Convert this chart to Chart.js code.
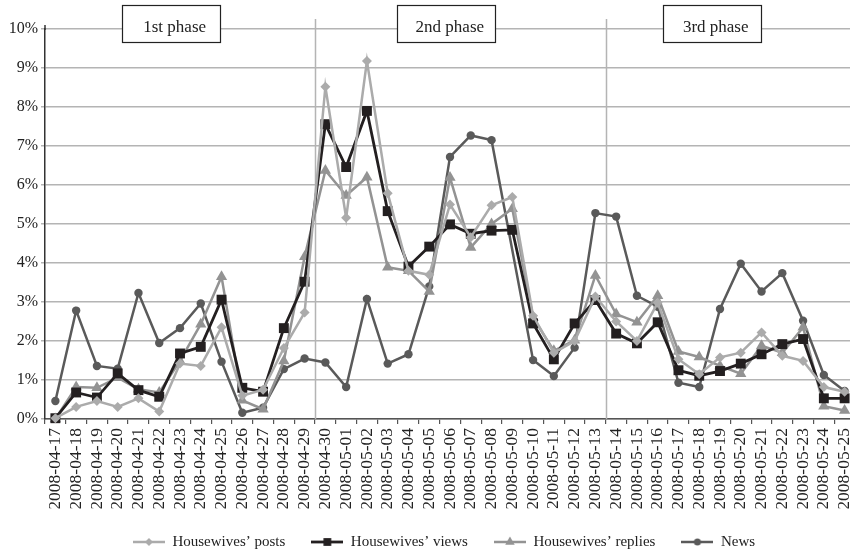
<!DOCTYPE html>
<html><head><meta charset="utf-8">
<script src="https://cdn.jsdelivr.net/npm/chart.js@4"></script>
<style>html,body{margin:0;padding:0;background:#fff;overflow:hidden}#wrap{width:850px;height:554px}</style>
</head><body><div id="wrap"><canvas id="c" width="850" height="554"></canvas></div>
<script>
const dates = ['2008-04-17','2008-04-18','2008-04-19','2008-04-20','2008-04-21','2008-04-22','2008-04-23','2008-04-24','2008-04-25','2008-04-26','2008-04-27','2008-04-28','2008-04-29','2008-04-30','2008-05-01','2008-05-02','2008-05-03','2008-05-04','2008-05-05','2008-05-06','2008-05-07','2008-05-08','2008-05-09','2008-05-10','2008-05-11','2008-05-12','2008-05-13','2008-05-14','2008-05-15','2008-05-16','2008-05-17','2008-05-18','2008-05-19','2008-05-20','2008-05-21','2008-05-22','2008-05-23','2008-05-24','2008-05-25'];
const posts   = [0.02,0.31,0.46,0.31,0.53,0.19,1.42,1.36,2.35,0.60,0.75,1.82,2.73,8.52,5.16,9.18,5.79,3.80,3.70,5.50,4.66,5.48,5.69,2.65,1.70,2.00,3.14,2.50,2.00,2.98,1.53,1.15,1.58,1.70,2.22,1.62,1.49,0.82,0.70];
const views   = [0.02,0.68,0.55,1.17,0.74,0.57,1.68,1.85,3.06,0.80,0.70,2.33,3.52,7.56,6.46,7.90,5.33,3.91,4.42,4.99,4.75,4.83,4.85,2.45,1.53,2.45,3.05,2.19,1.94,2.48,1.25,1.11,1.23,1.42,1.66,1.92,2.05,0.53,0.53];
const replies = [0.00,0.82,0.80,1.06,0.76,0.68,1.49,2.43,3.65,0.48,0.25,1.49,4.16,6.37,5.73,6.20,3.89,3.80,3.27,6.19,4.40,5.00,5.39,2.60,1.75,2.02,3.68,2.69,2.48,3.16,1.73,1.59,1.36,1.16,1.88,1.70,2.35,0.33,0.22];
const news    = [0.46,2.78,1.36,1.29,3.23,1.95,2.33,2.96,1.47,0.16,0.29,1.28,1.55,1.45,0.82,3.08,1.42,1.66,3.40,6.72,7.27,7.15,null,1.51,1.10,1.83,5.28,5.19,3.16,2.88,0.93,0.82,2.82,3.98,3.27,3.74,2.52,1.13,0.72];
const seriesNames = ['Housewives\u2019 posts','Housewives\u2019 views','Housewives\u2019 replies','News'];
const yTicks = [0,1,2,3,4,5,6,7,8,9,10];
const phaseLabels = ['1st phase','2nd phase','3rd phase'];
const phaseStarts = ['2008-04-30','2008-05-14'];

const FONT = "'Liberation Serif', 'Times New Roman', serif";
const styles = [
  {color:'#ababab', point:'rectRot', r:5,   lw:2.5, lr:4},
  {color:'#231f20', point:'rect',    r:7,   lw:2.8, lr:5.5},
  {color:'#939393', point:'triangle',r:6.5, lw:2.5, lr:5.5},
  {color:'#5a5a5a', point:'circle',  r:4.2, lw:2.5, lr:3.5}
];

function legendIcon(st) {
  const c = document.createElement('canvas');
  c.width = 32; c.height = 14;
  const g = c.getContext('2d');
  g.strokeStyle = st.color; g.fillStyle = st.color; g.lineWidth = st.lw;
  g.beginPath(); g.moveTo(0, 7); g.lineTo(32, 7); g.stroke();
  const cx = 16, cy = 7, r = st.lr;
  g.beginPath();
  if (st.point === 'rectRot') { g.moveTo(cx, cy - r); g.lineTo(cx + r, cy); g.lineTo(cx, cy + r); g.lineTo(cx - r, cy); g.closePath(); }
  else if (st.point === 'rect') { const s = r * Math.SQRT1_2; g.rect(cx - s, cy - s, 2 * s, 2 * s); }
  else if (st.point === 'triangle') { g.moveTo(cx, cy - r); g.lineTo(cx + r * 0.866, cy + r * 0.5); g.lineTo(cx - r * 0.866, cy + r * 0.5); g.closePath(); }
  else { g.arc(cx, cy, r, 0, Math.PI * 2); }
  g.fill();
  return c;
}
const icons = styles.map(legendIcon);

const phasePlugin = {
  id: 'phases',
  afterLayout(chart, args, opts) {
    if (chart.legend) { chart.legend.left += opts.legendShift; chart.legend.right += opts.legendShift; }
    // the plot runs slightly past the right edge of the canvas, as in the reference
    const x = chart.scales.x, ext = opts.extendRight;
    x.right += ext; x.width += ext;
    chart.chartArea.right += ext; chart.chartArea.width += ext;
    x.configure();
  },
  beforeDatasetsDraw(chart, args, opts) {
    const {ctx, chartArea, scales: {x}} = chart;
    ctx.save();
    ctx.strokeStyle = '#b4b4b4'; ctx.lineWidth = 1.5;
    phaseStarts.forEach(d => {
      const i = dates.indexOf(d);
      const px = Math.round((x.getPixelForValue(i - 1) + x.getPixelForValue(i)) / 2) + 0.5;
      ctx.beginPath(); ctx.moveTo(px, chartArea.top - 10); ctx.lineTo(px, chartArea.bottom); ctx.stroke();
    });
    ctx.strokeStyle = '#333'; ctx.lineWidth = 1.5;
    ctx.beginPath(); ctx.moveTo(chartArea.left, chartArea.top - 4); ctx.lineTo(chartArea.left, chartArea.top + 1); ctx.stroke();
    ctx.restore();
  },
  afterDraw(chart, args, opts) {
    const {ctx, scales: {x}} = chart;
    ctx.save();
    phaseLabels.forEach((t, k) => {
      const cx = x.getPixelForValue(opts.boxAt[k]);
      const w = 98, h = 37;
      const left = Math.round(cx - w / 2) + 0.5, top = 5.5;
      ctx.fillStyle = '#fff'; ctx.fillRect(left, top, w, h);
      ctx.strokeStyle = '#222'; ctx.lineWidth = 1.2; ctx.strokeRect(left, top, w, h);
      ctx.fillStyle = '#222'; ctx.font = '17px ' + FONT;
      ctx.textAlign = 'center'; ctx.textBaseline = 'alphabetic';
      ctx.fillText(t, cx + 4, 31.5);
    });
    ctx.restore();
  }
};

const datasets = [posts, views, replies, news].map((d, i) => ({
  label: seriesNames[i],
  data: d,
  borderColor: styles[i].color,
  backgroundColor: styles[i].color,
  pointBackgroundColor: styles[i].color,
  pointBorderColor: styles[i].color,
  pointBorderWidth: 0,
  pointStyle: styles[i].point,
  pointRadius: styles[i].r,
  borderWidth: styles[i].lw,
  tension: 0,
  spanGaps: true,
  clip: 8
}));

new Chart(document.getElementById('c'), {
  type: 'line',
  data: { labels: dates, datasets },
  plugins: [phasePlugin],
  options: {
    responsive: false,
    animation: false,
    devicePixelRatio: 1,
    layout: { autoPadding: false, padding: { top: 29, right: 0, left: 0, bottom: -5.5 } },
    plugins: {
      phases: { boxAt: [5.55, 18.8, 31.6], legendShift: -3.5, extendRight: 5 },
      tooltip: { enabled: false },
      legend: {
        position: 'bottom',
        fullSize: false,
        labels: {
          usePointStyle: true,
          pointStyleWidth: 32,
          padding: 26,
          color: '#222',
          font: { family: FONT, size: 15 },
          generateLabels(chart) {
            const items = Chart.defaults.plugins.legend.labels.generateLabels(chart);
            items.forEach(it => { it.pointStyle = icons[it.datasetIndex]; });
            return items;
          }
        }
      }
    },
    scales: {
      x: {
        type: 'category',
        offset: true,
        afterFit(s) { s.height = 89.5; s.paddingLeft = 0; s.paddingRight = 0; },
        grid: { offset: true, drawOnChartArea: false, tickLength: 5, color: '#555', lineWidth: 1.2 },
        border: { color: '#555', width: 1.5 },
        ticks: { autoSkip: false, maxRotation: 90, minRotation: 90, padding: 4, color: '#222', font: { family: FONT, size: 17.5 } }
      },
      y: {
        min: 0, max: 10,
        afterFit(s) { s.width = 45; },
        afterBuildTicks(s) { s.ticks = yTicks.map(v => ({ value: v })); },
        grid: { color: '#b4b4b4', lineWidth: 1.5, tickLength: 4 },
        border: { color: '#333', width: 1.5 },
        ticks: { padding: 3, color: '#222', font: { family: FONT, size: 16 }, callback: v => v + '%' }
      }
    }
  }
});
</script></body></html>
